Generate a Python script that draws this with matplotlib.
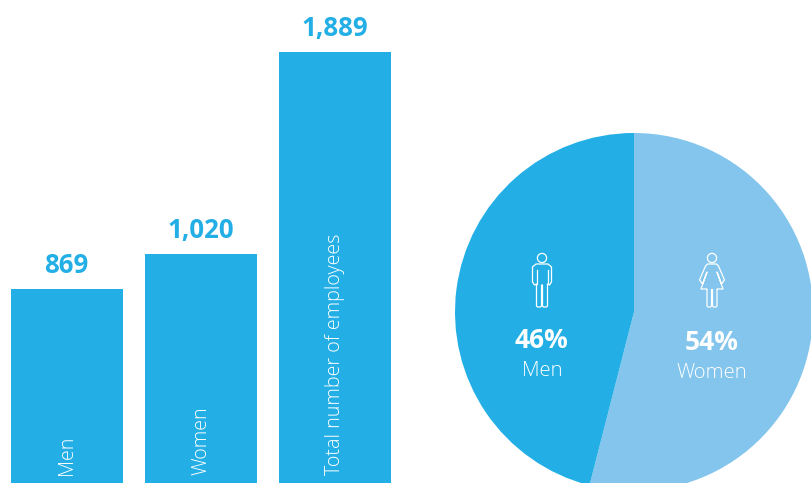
import matplotlib
matplotlib.use('Agg')
import matplotlib.pyplot as plt
from matplotlib.patches import Circle, Polygon

plt.rcParams['font.family'] = ['Open Sans', 'DejaVu Sans']

categories = ['Men', 'Women', 'Total number of employees']
values = [869, 1020, 1889]
value_labels = ['869', '1,020', '1,889']
shares = [54, 46]
share_labels = ['Women', 'Men']
share_texts = ['54%', '46%']

BLUE = '#23afe5'
LIGHT = '#83c5ec'


def draw_person(ax, cx, top, woman=False):
    # icon outline in pixels, x from the centre, y down from the head top
    def pts(lst):
        return [(cx + a, 483 - (top + b)) for a, b in lst]
    ax.add_patch(Circle((cx, 483 - (top + 5)), 4.6, fill=False, ec='white', lw=0.9))
    if woman:
        outline = [(-4.5, 11), (4.5, 11), (6.5, 13), (12.5, 27), (9.5, 31), (5, 19), (11, 36),
                   (5, 36), (5, 53), (4, 54), (1.5, 54), (0.5, 53), (0.5, 36.5), (-0.5, 36.5),
                   (-0.5, 53), (-1.5, 54), (-4, 54), (-5, 53), (-5, 36), (-11, 36), (-5, 19),
                   (-9.5, 31), (-12.5, 27), (-6.5, 13)]
    else:
        outline = [(-6, 11), (6, 11), (9.5, 14), (9.5, 29), (7.5, 32), (5.5, 31), (5.5, 53),
                   (4.5, 54), (1.5, 54), (0.5, 53), (0.5, 32), (-0.5, 32), (-0.5, 53), (-1.5, 54),
                   (-4.5, 54), (-5.5, 53), (-5.5, 31), (-7.5, 32), (-9.5, 29), (-9.5, 14)]
        for s in (-1, 1):
            ax.plot(*zip(*pts([(s * 5.5, 17), (s * 5.5, 31)])), color='white', lw=0.9)
    ax.add_patch(Polygon(pts(outline), closed=True, fill=False, ec='white', lw=0.9,
                         joinstyle='round'))


fig = plt.figure(figsize=(8.11, 4.83), dpi=100)

# bars are cropped at the bottom of the picture, as in the original
ax = fig.add_axes([0, 0, 1, 1])
ax.bar(range(3), values, width=0.8358, color=BLUE, linewidth=0)
ax.set_xlim(-0.5, 5.552)
ax.set_ylim(33, 2115)
ax.axis('off')

for i, (v, lab, cat) in enumerate(zip(values, value_labels, categories)):
    ax.text(i - 0.005, v + 44, lab, ha='center', va='bottom', color=BLUE, fontsize=18.6,
            fontweight='bold')
    ax.text(i + 0.002, 68, cat, ha='center', va='bottom', rotation=90, color='white',
            fontsize=14.2, fontweight='light')

# pie, also cropped
pax = fig.add_axes([0, 0, 1, 1])
pax.pie(shares, colors=[LIGHT, BLUE], startangle=90, counterclock=False,
        center=(634, 171), radius=179, frame=True,
        wedgeprops={'linewidth': 0})
pax.set_xlim(0, 811)
pax.set_ylim(0, 483)
pax.axis('off')

pax.text(541, 483 - 340, share_texts[1], ha='center', va='center', color='white',
         fontsize=19, fontweight='bold')
pax.text(542, 483 - 371, share_labels[1], ha='center', va='center', color='white',
         fontsize=14.7, fontweight='light')
pax.text(712, 483 - 343, share_texts[0], ha='center', va='center', color='white',
         fontsize=19, fontweight='bold')
pax.text(712, 483 - 373, share_labels[0], ha='center', va='center', color='white',
         fontsize=14.7, fontweight='light')

draw_person(pax, 542, 253)
draw_person(pax, 712, 253, woman=True)

fig.savefig('out.png', dpi=100)
